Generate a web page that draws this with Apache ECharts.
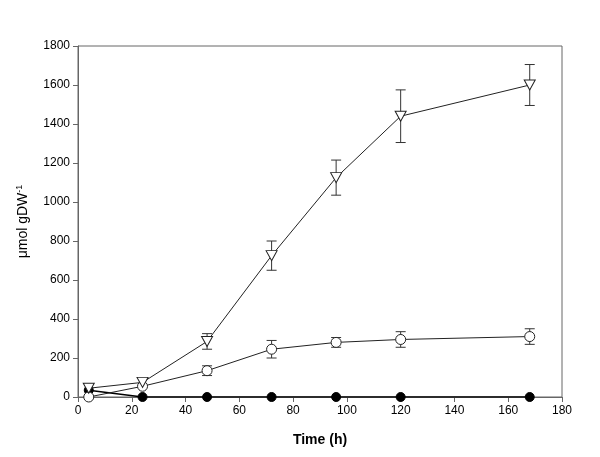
<!DOCTYPE html>
<html><head><meta charset="utf-8">
<script src="https://cdn.jsdelivr.net/npm/echarts@6/dist/echarts.min.js"></script>
<style>html,body{margin:0;padding:0;background:#fff}#c{width:600px;height:457px}</style>
</head><body><div id="c"></div>
<script>
const times = [4, 24, 48, 72, 96, 120, 168];
const triVals = [45, 75, 285, 725, 1125, 1440, 1600];
const triErr = [0, 0, 40, 75, 90, 135, 105];
const openVals = [0, 55, 135, 245, 280, 295, 310];
const openErr = [0, 0, 25, 45, 25, 40, 40];
const filledVals = [35, 0, 0, 0, 0, 0, 0];
const xTicks = [0, 20, 40, 60, 80, 100, 120, 140, 160, 180];
const yTicks = [0, 200, 400, 600, 800, 1000, 1200, 1400, 1600, 1800];

const pairs = (xs, ys) => xs.map((x, i) => [x, ys[i]]);
const errData = (xs, ys, es) => xs.map((x, i) => [x, ys[i] - es[i], ys[i] + es[i]]).filter((d, i) => es[i] > 0);

function errRender(params, api) {
  const x = api.value(0), lo = api.value(1), hi = api.value(2);
  const pLo = api.coord([x, lo]), pHi = api.coord([x, hi]);
  const w = 5;
  const st = {stroke: '#333', lineWidth: 1};
  return {type: 'group', children: [
    {type: 'line', shape: {x1: pLo[0], y1: pLo[1], x2: pHi[0], y2: pHi[1]}, style: st},
    {type: 'line', shape: {x1: pLo[0]-w, y1: pLo[1], x2: pLo[0]+w, y2: pLo[1]}, style: st},
    {type: 'line', shape: {x1: pHi[0]-w, y1: pHi[1], x2: pHi[0]+w, y2: pHi[1]}, style: st}
  ]};
}

const chart = echarts.init(document.getElementById('c'));
const font = 'Liberation Sans, Arial, sans-serif';
chart.setOption({
  animation: false,
  grid: {left: 78, right: 38, top: 46, bottom: 60, show: true, borderColor: '#666', borderWidth: 1},
  xAxis: {
    type: 'value', min: 0, max: 180, interval: 20,
    name: 'Time (h)', nameLocation: 'middle', nameGap: 36,
    nameTextStyle: {fontFamily: font, fontSize: 14, fontWeight: 'bold', color: '#000'},
    axisLine: {lineStyle: {color: '#666'}},
    axisTick: {inside: false, length: 5, lineStyle: {color: '#666'}},
    axisLabel: {fontFamily: font, fontSize: 12, color: '#000', margin: 8, formatter: v => String(v)},
    splitLine: {show: false}
  },
  yAxis: {
    type: 'value', min: 0, max: 1800, interval: 200,
    name: '{m|μmol gDW}{s|-1}', nameLocation: 'middle', nameGap: 46,
    nameTextStyle: {fontFamily: font, color: '#000',
      rich: {m: {fontFamily: font, fontSize: 14, color: '#000'}, s: {fontFamily: font, fontSize: 9, color: '#000', verticalAlign: 'top', padding: [0,0,8,0]}}},
    axisLine: {show: true, lineStyle: {color: '#666'}},
    axisTick: {show: true, inside: false, length: 5, lineStyle: {color: '#666'}},
    axisLabel: {fontFamily: font, fontSize: 12, color: '#000', margin: 8, formatter: v => String(v)},
    splitLine: {show: false}
  },
  series: [
    {type: 'custom', renderItem: errRender, data: errData(times, triVals, triErr), z: 1, encode: {x: 0, y: [1, 2]}},
    {type: 'custom', renderItem: errRender, data: errData(times, openVals, openErr), z: 1, encode: {x: 0, y: [1, 2]}},
    {type: 'line', data: pairs(times, filledVals), symbol: 'circle', symbolSize: 9,
      lineStyle: {color: '#000', width: 1.5}, itemStyle: {color: '#000', borderColor: '#000'}, z: 2},
    {type: 'line', data: pairs(times, openVals), symbol: 'circle', symbolSize: 10,
      lineStyle: {color: '#222', width: 1}, itemStyle: {color: '#fff', borderColor: '#222', borderWidth: 1}, z: 3},
    {type: 'line', data: pairs(times, triVals), symbol: 'triangle', symbolRotate: 180, symbolSize: [11, 10],
      lineStyle: {color: '#222', width: 1}, itemStyle: {color: '#fff', borderColor: '#222', borderWidth: 1}, z: 4}
  ]
});
</script></body></html>
